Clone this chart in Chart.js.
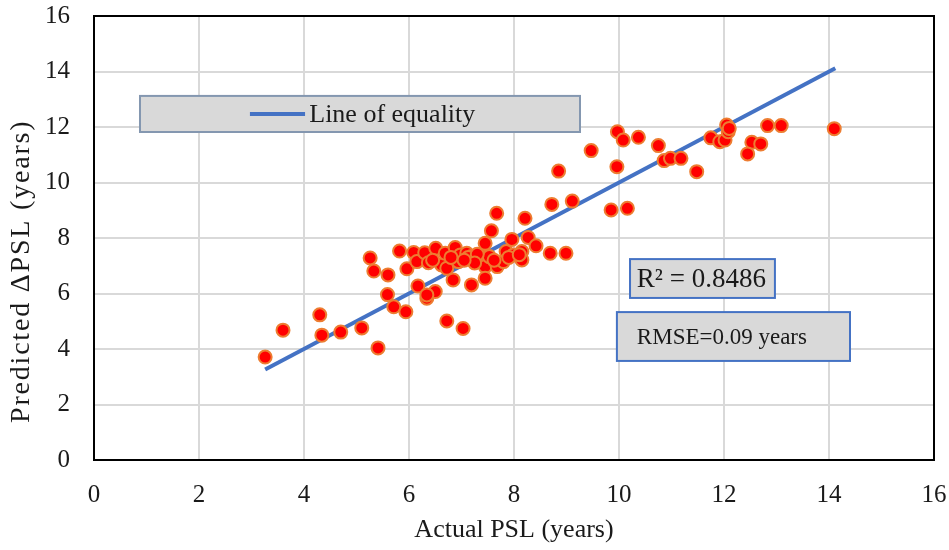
<!DOCTYPE html>
<html>
<head>
<meta charset="utf-8">
<title>Actual vs Predicted PSL</title>
<script src="https://cdn.jsdelivr.net/npm/chart.js@4.4.1/dist/chart.umd.min.js"></script>
<style>
  html, body { margin: 0; padding: 0; background: #ffffff; }
  #wrap { width: 949px; height: 550px; position: relative; }
</style>
</head>
<body>
<div id="wrap"><canvas id="chart" width="949" height="550"></canvas></div>
<script>
// Actual PSL (years) for each observation
const actualPSL = [
  3.26, 3.60, 4.30, 4.34, 4.70, 5.10, 5.41, 5.26, 5.33, 5.60,
  5.59, 5.71, 5.94, 6.17, 5.82, 5.96, 6.09, 6.15, 6.30, 6.37,
  6.34, 6.50, 6.51, 6.62, 6.69, 6.72, 6.72, 6.84, 6.88, 6.94,
  6.98, 7.03, 7.10, 7.19, 7.19, 7.30, 7.35, 7.45, 7.45, 7.45,
  7.53, 7.57, 7.67, 7.68, 7.80, 7.85, 7.96, 7.99, 8.15, 8.15,
  8.21, 8.27, 8.42, 8.69, 8.99, 8.72, 9.11, 8.85, 9.47, 9.97,
  10.08, 10.37, 9.96, 10.75, 10.86, 10.98, 11.18, 11.48, 11.75, 11.92,
  12.02, 12.05, 12.08, 12.53, 12.70, 12.45, 12.83, 13.09, 14.10, 9.85,
  10.16, 7.13, 7.30, 7.62, 7.90, 8.10, 7.25, 6.80, 6.45, 7.05,
  12.10, 6.34
];
// Predicted ΔPSL (years) for the same observations
const predictedPSL = [
  3.71, 4.68, 5.23, 4.50, 4.61, 4.76, 4.04, 7.28, 6.81, 6.67,
  5.96, 5.52, 5.34, 6.27, 7.53, 6.89, 7.48, 7.15, 7.47, 7.11,
  5.83, 6.07, 7.63, 7.03, 7.45, 6.91, 5.01, 6.49, 7.66, 7.15,
  7.39, 4.74, 7.45, 7.33, 6.31, 7.21, 7.39, 7.81, 6.97, 6.55,
  7.33, 8.26, 8.89, 6.97, 7.15, 7.51, 7.95, 7.39, 7.51, 7.21,
  8.71, 8.02, 7.72, 7.45, 7.45, 9.21, 9.33, 10.41, 11.15, 11.83,
  11.53, 11.63, 10.57, 11.33, 10.79, 10.87, 10.87, 10.39, 11.61, 11.47,
  11.53, 12.07, 11.83, 11.45, 11.39, 11.03, 12.05, 12.05, 11.94, 9.01,
  9.07, 7.30, 7.41, 7.20, 7.30, 7.40, 7.10, 7.30, 7.20, 7.20,
  11.95, 5.95
];
// End points of the line of equality (y = x)
const equalityX = [3.26, 14.12];
const equalityY = [3.26, 14.12];
// Axis ticks
const axisTicks = [0, 2, 4, 6, 8, 10, 12, 14, 16];

const legendLabel = 'Line of equality';
const r2Label = 'R² = 0.8486';
const rmseLabel = 'RMSE=0.09 years';
const xTitle = 'Actual PSL (years)';
const yTitle = 'Predicted ΔPSL (years)';

const points = actualPSL.map((x, i) => ({ x: x, y: predictedPSL[i] }));
const equality = equalityX.map((x, i) => ({ x: x, y: equalityY[i] }));

const SERIF = '"Liberation Serif", "Times New Roman", serif';
const TEXT = '#1a1a1a';

// Text boxes placed in data coordinates of the two scales
const textBoxes = [
  { x1: 0.876, x2: 9.257, y1: 13.12, y2: 11.82, fill: '#d9d9d9', stroke: '#8497b0',
    text: legendLabel, textX: 4.10, size: 26, sample: [2.97, 4.02] },
  { x1: 10.21, x2: 12.97, y1: 7.24, y2: 5.84, fill: '#d9d9d9', stroke: '#4472c4',
    text: r2Label, textX: 10.34, size: 27 },
  { x1: 9.96, x2: 14.40, y1: 5.33, y2: 3.57, fill: '#d9d9d9', stroke: '#4472c4',
    text: rmseLabel, textX: 10.34, size: 23 }
];

// Keep the plot area fixed: no extra room for overhanging end labels
function fixPadding(scale) {
  scale.paddingLeft = 0;
  scale.paddingRight = 0;
  scale.paddingTop = 0;
  scale.paddingBottom = 0;
}

const framePlugin = {
  id: 'frame',
  afterDatasetsDraw(chart) {
    const { ctx, chartArea: a } = chart;
    ctx.save();
    ctx.strokeStyle = '#000000';
    ctx.lineWidth = 2;
    ctx.strokeRect(a.left, a.top, a.right - a.left, a.bottom - a.top);
    ctx.restore();
  }
};

// Vertical axis title, sitting a little below the middle of the plot
const yTitlePlugin = {
  id: 'yTitle',
  afterDraw(chart) {
    const { ctx } = chart;
    const ys = chart.scales.y;
    ctx.save();
    ctx.translate(22, ys.getPixelForValue(6.8));
    ctx.rotate(-Math.PI / 2);
    ctx.fillStyle = TEXT;
    ctx.font = '28px ' + SERIF;
    if ('letterSpacing' in ctx) ctx.letterSpacing = '1.8px';
    ctx.textAlign = 'center';
    ctx.textBaseline = 'middle';
    ctx.fillText(yTitle, 0, 0);
    ctx.restore();
  }
};

const boxesPlugin = {
  id: 'boxes',
  afterDraw(chart) {
    const { ctx } = chart;
    const xs = chart.scales.x, ys = chart.scales.y;
    ctx.save();
    textBoxes.forEach(b => {
      const l = xs.getPixelForValue(b.x1), r = xs.getPixelForValue(b.x2);
      const t = ys.getPixelForValue(b.y1), btm = ys.getPixelForValue(b.y2);
      ctx.fillStyle = b.fill;
      ctx.fillRect(l, t, r - l, btm - t);
      ctx.strokeStyle = b.stroke;
      ctx.lineWidth = 2;
      ctx.strokeRect(l, t, r - l, btm - t);
      const cy = (t + btm) / 2;
      if (b.sample) {
        ctx.strokeStyle = '#4472c4';
        ctx.lineWidth = 4;
        ctx.beginPath();
        ctx.moveTo(xs.getPixelForValue(b.sample[0]), cy);
        ctx.lineTo(xs.getPixelForValue(b.sample[1]), cy);
        ctx.stroke();
      }
      ctx.fillStyle = TEXT;
      ctx.font = b.size + 'px ' + SERIF;
      ctx.textBaseline = 'middle';
      ctx.textAlign = 'left';
      ctx.fillText(b.text, xs.getPixelForValue(b.textX), cy + 1);
    });
    ctx.restore();
  }
};

new Chart(document.getElementById('chart'), {
  type: 'scatter',
  data: {
    datasets: [
      {
        label: 'Observations',
        data: points,
        backgroundColor: '#ff0000',
        borderColor: '#ed7d31',
        borderWidth: 2,
        pointRadius: 6.5,
        order: 1
      },
      {
        label: legendLabel,
        type: 'line',
        data: equality,
        borderColor: '#4472c4',
        borderWidth: 4,
        pointRadius: 0,
        fill: false,
        order: 2
      }
    ]
  },
  options: {
    responsive: false,
    animation: false,
    devicePixelRatio: 1,
    layout: { padding: { top: 16, right: 15, left: 0, bottom: 0 } },
    plugins: {
      legend: { display: false },
      tooltip: { enabled: false }
    },
    scales: {
      x: {
        type: 'linear',
        min: 0, max: 16,
        afterBuildTicks(scale) { scale.ticks = axisTicks.map(v => ({ value: v })); },
        afterFit(scale) { scale.height = 90; fixPadding(scale); },
        grid: { color: '#d9d9d9', lineWidth: 2, drawTicks: false },
        border: { display: false },
        ticks: { color: TEXT, padding: 20, font: { family: SERIF, size: 25 } },
        title: { display: true, text: xTitle, color: TEXT,
                 font: { family: SERIF, size: 26 }, padding: { top: 0, bottom: 4 } }
      },
      y: {
        type: 'linear',
        min: 0, max: 16,
        afterBuildTicks(scale) { scale.ticks = axisTicks.map(v => ({ value: v })); },
        afterFit(scale) { scale.width = 94; fixPadding(scale); },
        grid: { color: '#d9d9d9', lineWidth: 2, drawTicks: false },
        border: { display: false },
        ticks: { color: TEXT, padding: 24, font: { family: SERIF, size: 25 } }
      }
    }
  },
  plugins: [framePlugin, boxesPlugin, yTitlePlugin]
});
</script>
</body>
</html>
